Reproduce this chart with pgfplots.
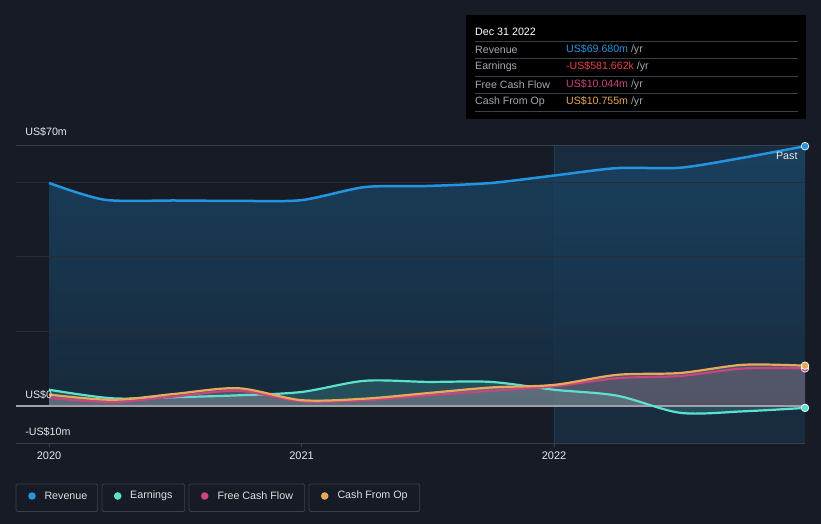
\documentclass[border=0pt]{standalone}
\usepackage{pgfplots}
\pgfplotsset{compat=1.18}
\usepackage{fontspec}
\setmainfont{Liberation Sans}
\definecolor{bg}{HTML}{161B25}
\definecolor{rev}{HTML}{2394DF}
\definecolor{earn}{HTML}{5CE1D0}
\definecolor{fcf}{HTML}{C8467F}
\definecolor{cfo}{HTML}{E8A95C}
\definecolor{gridc}{HTML}{272D38}
\definecolor{linec}{HTML}{3A404A}
\definecolor{zeroc}{HTML}{9EA0A4}
\definecolor{lbl}{HTML}{A6A9AE}
\definecolor{txt}{HTML}{E6E8EA}
\definecolor{earnred}{HTML}{E8414A}
\begin{document}
\begin{tikzpicture}
\begin{scope}[x=1pt,y=1pt]
\fill[bg] (0,0) rectangle (821,524);
% tooltip
\fill[black] (466,405) rectangle (806,509);
\node[anchor=west,text=white,font=\fontsize{10.7}{12}\selectfont,inner sep=0] at (475,492) {Dec 31 2022};
\foreach \yy in {483,465.5,448,430.5,413}{\draw[linec,line width=0.8pt] (475,\yy) -- (798,\yy);}
\begin{scope}[every node/.style={anchor=west,inner sep=0,font=\fontsize{10.6}{12}\selectfont}]
\node[text=lbl] at (475,474.5) {Revenue};
\node[text=lbl] at (475,457) {Earnings};
\node[text=lbl] at (475,439.5) {Free Cash Flow};
\node[text=lbl] at (475,422) {Cash From Op};
\node at (566,474.5) {\textcolor{rev}{US\$69.680m}~\textcolor{lbl}{/yr}};
\node at (566,457) {\textcolor{earnred}{-US\$581.662k}~\textcolor{lbl}{/yr}};
\node at (566,439.5) {\textcolor{fcf}{US\$10.044m}~\textcolor{lbl}{/yr}};
\node at (566,422) {\textcolor{cfo}{US\$10.755m}~\textcolor{lbl}{/yr}};
\end{scope}
% legend
\begin{scope}[every node/.style={anchor=west,inner sep=0,text=txt!85!lbl,font=\fontsize{10.7}{12}\selectfont}]
\draw[linec,rounded corners=1.5pt,line width=0.8pt] (16,12.5) rectangle (97.7,40);
\draw[linec,rounded corners=1.5pt,line width=0.8pt] (102,12.5) rectangle (184.7,40);
\draw[linec,rounded corners=1.5pt,line width=0.8pt] (189,12.5) rectangle (304.7,40);
\draw[linec,rounded corners=1.5pt,line width=0.8pt] (309,12.5) rectangle (419.7,40);
\fill[rev] (32,28) circle (3.8);
\fill[earn] (117.7,28) circle (3.8);
\fill[fcf] (204.7,28) circle (3.8);
\fill[cfo] (324.7,28) circle (3.8);
\node at (44.3,28) {Revenue};
\node at (130,28) {Earnings};
\node at (217.3,28) {Free Cash Flow};
\node at (337.3,28) {Cash From Op};
\end{scope}
\end{scope}
\begin{axis}[at={(16pt,81pt)}, anchor=south west, scale only axis,
  width=789pt, height=298pt,
  xmin=2019.869, xmax=2022.994, ymin=-10, ymax=70,
  axis line style={draw=none},
  xtick={2020,2021,2022}, xticklabels={2020,2021,2022},
  xtick pos=bottom, xtick align=outside, major tick length=4pt,
  x tick style={linec, line width=0.8pt},
  xticklabel style={text=txt, font=\fontsize{11}{12}\selectfont, yshift=-1pt},
  /pgf/number format/assume math mode=true,
  ytick=\empty, clip=false]
% highlight region
\fill[rev!35!bg, opacity=0.4] (axis cs:2022,-10) rectangle (axis cs:2022.994,70);
\draw[rev!30!bg, line width=0.8pt] (axis cs:2022,-10) -- (axis cs:2022,70);
% revenue fill
\addplot[draw=none, top color=rev!34!bg, bottom color=rev!14!bg, fill opacity=0.85, smooth, tension=0.45] coordinates {
(2020.0,59.8) (2020.22,55.3) (2020.5,55.1) (2020.75,55.0) (2021.0,55.2) (2021.25,58.7) (2021.5,59.0) (2021.75,59.8) (2022.0,61.8) (2022.25,63.8) (2022.5,63.9) (2022.75,66.6) (2022.994,69.68)} \closedcycle;
% grid lines
\draw[gridc, line width=0.8pt] (axis cs:2019.869,20) -- (axis cs:2022.994,20);
\draw[gridc, line width=0.8pt] (axis cs:2019.869,40) -- (axis cs:2022.994,40);
\draw[gridc, line width=0.8pt] (axis cs:2019.869,60) -- (axis cs:2022.994,60);
\draw[linec, line width=0.8pt] (axis cs:2019.869,70) -- (axis cs:2022.994,70);
\draw[linec, line width=0.8pt] (axis cs:2019.869,-10) -- (axis cs:2022.994,-10);
% earnings fill
\addplot[draw=none, fill=earn, fill opacity=0.2, smooth, tension=0.5] coordinates {
(2020.0,4.3) (2020.25,2.0) (2020.5,2.3) (2020.75,2.8) (2021.0,3.7) (2021.25,6.7) (2021.5,6.4) (2021.75,6.4) (2022.0,4.3) (2022.25,2.7) (2022.5,-1.9) (2022.75,-1.5) (2022.994,-0.58)} \closedcycle;
% cfo fill
\addplot[draw=none, fill=white, fill opacity=0.2, smooth, tension=0.5] coordinates {
(2020.0,3.0) (2020.25,1.6) (2020.5,3.2) (2020.75,4.7) (2021.0,1.5) (2021.25,1.9) (2021.5,3.4) (2021.75,4.9) (2022.0,5.6) (2022.25,8.3) (2022.5,8.8) (2022.75,11.0) (2022.994,10.755)} \closedcycle;
% fcf fill
\addplot[draw=none, fill=fcf, fill opacity=0.1, smooth, tension=0.5] coordinates {
(2020.0,2.1) (2020.25,1.0) (2020.5,2.5) (2020.75,4.0) (2021.0,1.2) (2021.25,1.5) (2021.5,2.8) (2021.75,4.0) (2022.0,5.2) (2022.25,7.4) (2022.5,8.0) (2022.75,10.0) (2022.994,10.044)} \closedcycle;
% zero line
\draw[zeroc, line width=1.8pt] (axis cs:2019.869,0) -- (axis cs:2022.994,0);
% lines
\addplot[earn, line width=2.2pt, smooth, tension=0.5] coordinates {
(2020.0,4.3) (2020.25,2.0) (2020.5,2.3) (2020.75,2.8) (2021.0,3.7) (2021.25,6.7) (2021.5,6.4) (2021.75,6.4) (2022.0,4.3) (2022.25,2.7) (2022.5,-1.9) (2022.75,-1.5) (2022.994,-0.58)};
\addplot[fcf, line width=2.2pt, smooth, tension=0.5] coordinates {
(2020.0,2.1) (2020.25,1.0) (2020.5,2.5) (2020.75,4.0) (2021.0,1.2) (2021.25,1.5) (2021.5,2.8) (2021.75,4.0) (2022.0,5.2) (2022.25,7.4) (2022.5,8.0) (2022.75,10.0) (2022.994,10.044)};
\addplot[cfo, line width=2.2pt, smooth, tension=0.5] coordinates {
(2020.0,3.0) (2020.25,1.6) (2020.5,3.2) (2020.75,4.7) (2021.0,1.5) (2021.25,1.9) (2021.5,3.4) (2021.75,4.9) (2022.0,5.6) (2022.25,8.3) (2022.5,8.8) (2022.75,11.0) (2022.994,10.755)};
\addplot[rev, line width=2.5pt, smooth, tension=0.45] coordinates {
(2020.0,59.8) (2020.22,55.3) (2020.5,55.1) (2020.75,55.0) (2021.0,55.2) (2021.25,58.7) (2021.5,59.0) (2021.75,59.8) (2022.0,61.8) (2022.25,63.8) (2022.5,63.9) (2022.75,66.6) (2022.994,69.68)};
% end markers
\addplot[only marks, mark=*, mark size=3.8pt, mark options={fill=earn, draw=white, line width=0.7pt}] coordinates {(2022.994,-0.58)};
\addplot[only marks, mark=*, mark size=3.8pt, mark options={fill=fcf, draw=white, line width=0.7pt}] coordinates {(2022.994,10.044)};
\addplot[only marks, mark=*, mark size=3.8pt, mark options={fill=cfo, draw=white, line width=0.7pt}] coordinates {(2022.994,10.755)};
\addplot[only marks, mark=*, mark size=3.8pt, mark options={fill=rev, draw=white, line width=0.7pt}] coordinates {(2022.994,69.68)};
% y labels
\node[anchor=west,inner sep=0,text=txt,font=\fontsize{10.7}{12}\selectfont] at (axis cs:2019.905,73.5) {US\$70m};
\node[anchor=west,inner sep=0,text=txt,font=\fontsize{10.7}{12}\selectfont] at (axis cs:2019.905,3) {US\$0};
\node[anchor=west,inner sep=0,text=txt,font=\fontsize{10.7}{12}\selectfont] at (axis cs:2019.905,-7) {-US\$10m};
\node[anchor=east,inner sep=0,text=txt,font=\fontsize{10.7}{12}\selectfont] at (axis cs:2022.965,67) {Past};
\end{axis}
\end{tikzpicture}
\end{document}
